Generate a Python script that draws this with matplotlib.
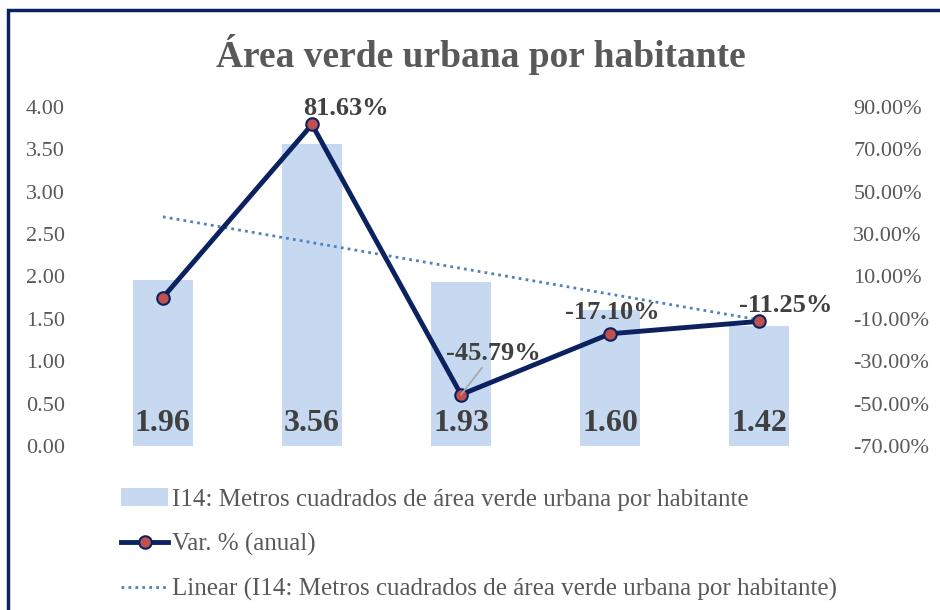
import numpy as np
import matplotlib.pyplot as plt
from matplotlib.patches import Rectangle

plt.rcParams['font.family'] = ['Liberation Serif', 'DejaVu Serif']

# Datos
periodos = [0, 1, 2, 3, 4]
area_verde = [1.96, 3.56, 1.93, 1.60, 1.42]
var_anual = [0.0, 81.63, -45.79, -17.10, -11.25]
etiquetas_var = [None, '81.63%', '-45.79%', '-17.10%', '-11.25%']

izq_ticks = [0.0, 0.5, 1.0, 1.5, 2.0, 2.5, 3.0, 3.5, 4.0]
der_ticks = [-70, -50, -30, -10, 10, 30, 50, 70, 90]

gris = '#595959'
gris_osc = '#404040'
azul_barra = '#C6D9F1'
azul_linea = '#0C2260'
rojo = '#C0504D'
azul_trend = '#4F81BD'

fig = plt.figure(figsize=(9.4, 6.1), dpi=100)
ax = fig.add_axes([0.094, 0.269, 0.793, 0.556])

# Marco del gráfico (recortado)
fig.patches.append(Rectangle((8 / 940, -0.1), 1.2, 1 - 10 / 610 + 0.1,
                             transform=fig.transFigure, fill=False,
                             edgecolor='#0C2260', linewidth=2.5))

barras = ax.bar(periodos, area_verde, width=0.4, color=azul_barra,
                label='I14: Metros cuadrados de área verde urbana por habitante', zorder=1)

# Tendencia lineal
m, b = np.polyfit(periodos, area_verde, 1)
x_t = np.array([periodos[0], periodos[-1]])
trend, = ax.plot(x_t, m * x_t + b, linestyle=(0, (1, 1.5)), color=azul_trend, linewidth=2,
                 label='Linear (I14: Metros cuadrados de área verde urbana por habitante)', zorder=2)

for x, v in zip(periodos, area_verde):
    ax.text(x, 0.27, f'{v:.2f}', ha='center', va='center', fontsize=23,
            fontweight='bold', color=gris_osc, zorder=5)

ax.set_xlim(-0.5, 4.5)
ax.set_ylim(0, 4.0)
ax.set_yticks(izq_ticks)
ax.set_yticklabels([f'{t:.2f}' for t in izq_ticks])
ax.set_xticks([])
for s in ax.spines.values():
    s.set_visible(False)
ax.tick_params(axis='y', length=0, labelsize=16, labelcolor=gris, pad=17)

ax2 = ax.twinx()
linea, = ax2.plot(periodos, var_anual, color=azul_linea, linewidth=3.5, marker='o',
                  markersize=9, markerfacecolor=rojo, markeredgecolor=azul_linea,
                  markeredgewidth=1.5, label='Var. % (anual)', zorder=4)
ax2.set_ylim(-70, 90)
ax2.set_yticks(der_ticks)
ax2.set_yticklabels([f'{t:.2f}%' for t in der_ticks])
ax2.set_xticks([])
for s in ax2.spines.values():
    s.set_visible(False)
ax2.tick_params(axis='y', length=0, labelsize=16, labelcolor=gris, pad=14)

# Etiquetas de la variación
desp = {1: (24.5, 11.5), 2: (23, 29.5), 3: (1.5, 15), 4: (19, 11.5)}
for i, et in enumerate(etiquetas_var):
    if et is None:
        continue
    dx, dy = desp[i]
    flecha = None
    if i == 2:
        flecha = dict(arrowstyle='-', color='#A6A6A6', lw=1.2, shrinkA=0, shrinkB=0)
    ax2.annotate(et, (periodos[i], var_anual[i]), xytext=(dx, dy),
                 textcoords='offset points', ha='center', va='center',
                 fontsize=19, fontweight='bold', color=gris_osc,
                 arrowprops=flecha, zorder=6)

fig.text(0.512, 0.91, 'Área verde urbana por habitante', ha='center', va='center',
         fontsize=27, fontweight='bold', color=gris)

leg = fig.legend([barras, linea, trend],
                 [barras.get_label(), linea.get_label(), trend.get_label()],
                 loc='upper left', bbox_to_anchor=(0.118, 0.216), frameon=False,
                 fontsize=18, labelcolor=gris, handlelength=1.9, handletextpad=0.15,
                 labelspacing=0.88, borderaxespad=0)

fig.savefig('out.png', dpi=100)
